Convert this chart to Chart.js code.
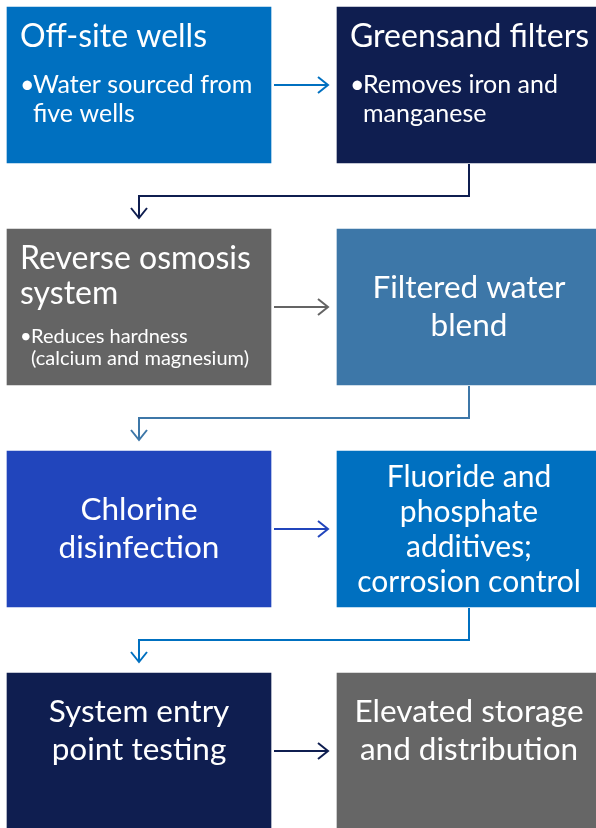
<!DOCTYPE html>
<html>
<head>
<meta charset="utf-8">
<script src="https://cdn.jsdelivr.net/npm/chart.js@4"></script>
<style>
  html, body { margin: 0; padding: 0; background: #fff; }
  .wrap { width: 596px; height: 828px; position: relative; }
</style>
</head>
<body>
<div class="wrap"><canvas id="flowChart"></canvas></div>
<script>
// process steps, in flow order
const stepTitles = [
  'Off-site wells',
  'Greensand filters',
  'Reverse osmosis\nsystem',
  'Filtered water\nblend',
  'Chlorine\ndisinfection',
  'Fluoride and\nphosphate\nadditives;\ncorrosion control',
  'System entry\npoint testing',
  'Elevated storage\nand distribution'
];
const stepNotes = [
  'Water sourced from\nfive wells',
  'Removes iron and\nmanganese',
  'Reduces hardness\n(calcium and magnesium)',
  '', '', '', '', ''
];
const stepColumn = [0, 1, 0, 1, 0, 1, 0, 1];
const stepRow = [0, 0, 1, 1, 2, 2, 3, 3];
const stepColors = ['#0070C0', '#0F1E50', '#646464', '#3D77A8', '#2145BC', '#0070C0', '#0F1E50', '#666666'];

const BOX_W = 0.8;
const FONT = 'Lato, "Open Sans", sans-serif';

const boxes = stepTitles.map((t, i) => ({ x: [stepColumn[i], stepColumn[i] + BOX_W], y: stepRow[i] }));

function boxRect(chart, i) {
  const el = chart.getDatasetMeta(0).data[i];
  const left = Math.min(el.base, el.x);
  const right = Math.max(el.base, el.x);
  return { left, right, top: el.y - el.height / 2, bottom: el.y + el.height / 2, cx: (left + right) / 2, cy: el.y };
}

function drawHead(ctx, x, y, dir) {
  ctx.beginPath();
  if (dir === 'right') {
    ctx.moveTo(x - 10, y - 8); ctx.lineTo(x, y); ctx.lineTo(x - 10, y + 8);
  } else {
    ctx.moveTo(x - 8, y - 10); ctx.lineTo(x, y); ctx.lineTo(x + 8, y - 10);
  }
  ctx.stroke();
}

const flowPlugin = {
  id: 'flow',
  afterDatasetsDraw(chart) {
    const ctx = chart.ctx;
    const lastRow = Math.max(...stepRow);
    ctx.save();
    ctx.lineWidth = 2;
    ctx.lineCap = 'butt';
    ctx.lineJoin = 'miter';

    // connectors
    for (let i = 0; i < stepTitles.length - 1; i++) {
      const a = boxRect(chart, i);
      const b = boxRect(chart, i + 1);
      ctx.strokeStyle = stepColors[i];
      if (stepRow[i] === stepRow[i + 1]) {
        const x0 = a.right + 3, x1 = b.left - 9;
        ctx.beginPath();
        ctx.moveTo(x0, a.cy); ctx.lineTo(x1, a.cy);
        ctx.stroke();
        drawHead(ctx, x1, a.cy, 'right');
      } else {
        const midY = Math.round((a.bottom + b.top) / 2);
        const tip = b.top - 11;
        ctx.beginPath();
        ctx.moveTo(a.cx, a.bottom + 1);
        ctx.lineTo(a.cx, midY);
        ctx.lineTo(b.cx, midY);
        ctx.lineTo(b.cx, tip);
        ctx.stroke();
        drawHead(ctx, b.cx, tip, 'down');
      }
    }

    // labels
    ctx.fillStyle = '#ffffff';
    ctx.textBaseline = 'alphabetic';
    stepTitles.forEach((title, i) => {
      const r = boxRect(chart, i);
      const lines = title.split('\n');
      if (stepNotes[i]) {
        ctx.textAlign = 'left';
        ctx.font = '32px ' + FONT;
        let y = r.top + 40;
        lines.forEach((ln, k) => {
          if (k > 0) y += 35;
          ctx.fillText(ln, r.left + 13, y);
        });
        const small = lines.length > 1;
        const size = small ? 20 : 25;
        const lh = small ? 22 : 29;
        ctx.font = size + 'px ' + FONT;
        y += small ? 39 : 46;
        ctx.fillText('\u2022', r.left + 13, y);
        stepNotes[i].split('\n').forEach((ln, k) => {
          ctx.fillText(ln, r.left + (small ? 24 : 26), y + k * lh);
        });
      } else {
        ctx.textAlign = 'center';
        const lh = lines.length > 3 ? 35 : 38;
        ctx.font = (lines.length > 3 ? 30 : 31.5) + 'px ' + FONT;
        const mid = stepRow[i] === lastRow ? r.top + 58 : r.cy;
        const y0 = mid - (lines.length - 1) * lh / 2 + 10;
        lines.forEach((ln, k) => ctx.fillText(ln, r.cx, y0 + k * lh));
      }
    });
    ctx.restore();
  }
};

new Chart(document.getElementById('flowChart'), {
  type: 'bar',
  data: {
    datasets: [{
      data: boxes,
      backgroundColor: stepColors,
      borderWidth: 0,
      barThickness: 156
    }]
  },
  options: {
    indexAxis: 'y',
    responsive: true,
    maintainAspectRatio: false,
    animation: false,
    layout: { padding: 0 },
    plugins: { legend: { display: false }, tooltip: { enabled: false } },
    scales: {
      x: { type: 'linear', display: false, min: -7 / 330, max: -7 / 330 + 596 / 330 },
      y: {
        type: 'linear', display: false, offset: false, reverse: true,
        min: -85 / 222, max: -85 / 222 + 828 / 222
      }
    }
  },
  plugins: [flowPlugin]
});
</script>
</body>
</html>
